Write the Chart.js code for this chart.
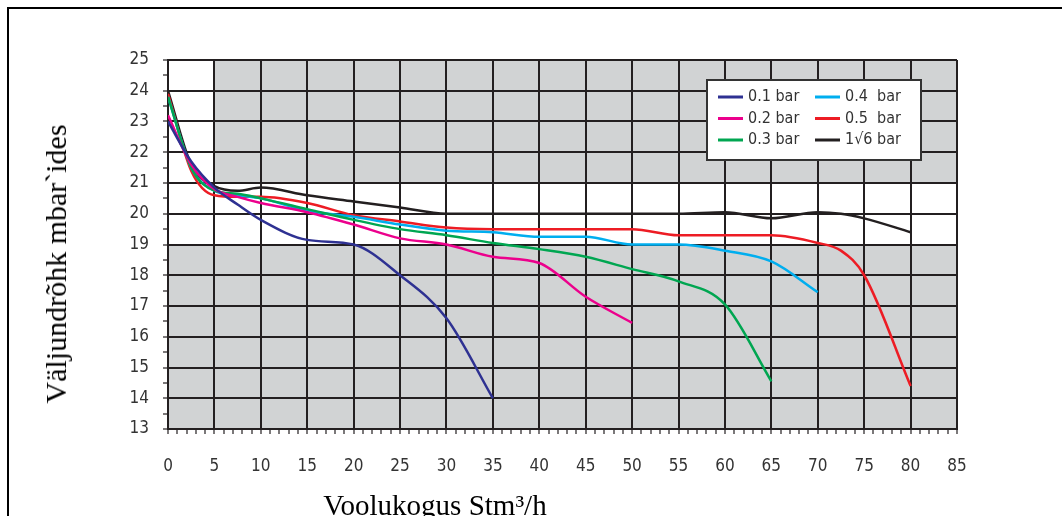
<!DOCTYPE html>
<html>
<head>
<meta charset="utf-8">
<script src="https://cdn.jsdelivr.net/npm/chart.js@4/dist/chart.umd.min.js"></script>
<style>
html,body{margin:0;background:#fff;overflow:hidden}
body{width:1062px;height:516px;position:relative}
.rule{position:absolute;background:#000}
#topRule{left:7px;top:7px;width:1055px;height:2px}
#leftRule{left:7px;top:7px;width:2px;height:509px}
#c{position:absolute;left:0;top:0}
.ttl{position:absolute;font-family:"Liberation Serif","Times New Roman",serif;color:#000;white-space:nowrap}
#ytitle{left:56px;top:264px;font-size:30px;transform:translate(-50%,-50%) rotate(-90deg)}
#xtitle{left:435px;top:505px;font-size:29px;transform:translate(-50%,-50%)}
</style>
</head>
<body>
<div class="rule" id="topRule"></div>
<div class="rule" id="leftRule"></div>
<canvas id="c" width="1062" height="516"></canvas>
<div class="ttl" id="ytitle">Väljundrõhk mbar`ides</div>
<div class="ttl" id="xtitle">Voolukogus Stm³/h</div>
<script>

// flow, Stm3/h
const flow = [0, 2.5, 5, 7.5, 10, 15, 20, 25, 30, 35, 40, 45, 50, 55, 60, 65, 70, 72.5, 75, 80]

const bar01 = [23.0, 21.7, 20.85, 20.3, 19.8, 19.15, 19.0, 18.0, 16.6, 14.0]
const bar02 = [23.2, 21.6, 20.8, 20.55, 20.35, 20.05, 19.65, 19.2, 19.0, 18.6, 18.4, 17.3, 16.45]
const bar03 = [23.8, 21.5, 20.75, 20.65, 20.5, 20.15, 19.8, 19.5, 19.3, 19.05, 18.85, 18.6, 18.2, 17.8, 17.05, 14.55]
const bar04 = [23.8, 21.5, 20.75, 20.6, 20.5, 20.1, 19.9, 19.65, 19.45, 19.4, 19.25, 19.25, 19.0, 19.0, 18.8, 18.45, 17.45]
const bar05 = [23.9, 21.4, 20.6, 20.55, 20.55, 20.35, 19.95, 19.75, 19.55, 19.5, 19.5, 19.5, 19.5, 19.3, 19.3, 19.3, 19.05, 18.8, 18.0, 14.4]
const bar16 = [24.0, 21.6, 20.9, 20.75, 20.85, 20.6, 20.4, 20.2, 20.0, 20.0, 20.0, 20.0, 20.0, 20.0, 20.05, 19.85, 20.05, 20.0, 19.85, 19.4]

const seriesNames = ["0.1 bar", "0.2 bar", "0.3 bar", "0.4  bar", "0.5  bar", "1\u221A6 bar"]
const seriesColors = ["#2e3192", "#ec008c", "#00a651", "#00aeef", "#ed1c24", "#231f20"]
const seriesValues = [bar01, bar02, bar03, bar04, bar05, bar16]

const tickFont = "'Liberation Sans Narrow','DejaVu Sans Condensed','Open Sans',sans-serif"

/* background: grey with white band 19..21 and white corner 0..5 / 21..25 */
const bgPlugin = {
  id:"bg",
  beforeDraw(chart){
    const {ctx, chartArea:a, scales:{x,y}} = chart
    ctx.save()
    ctx.fillStyle = "#d1d3d4"
    ctx.fillRect(a.left, a.top, a.right-a.left, a.bottom-a.top)
    ctx.fillStyle = "#fff"
    ctx.fillRect(a.left, y.getPixelForValue(21), a.right-a.left, y.getPixelForValue(19)-y.getPixelForValue(21))
    ctx.fillRect(a.left, a.top, x.getPixelForValue(5)-a.left, y.getPixelForValue(21)-a.top)
    ctx.restore()
  }
}

/* legend box inside the plot, two columns */
const legendPlugin = {
  id:"boxLegend",
  afterDraw(chart){
    const {ctx, chartArea:a} = chart
    const bx = a.right-250, by = a.top+20, bw = 214, bh = 80
    ctx.save()
    ctx.fillStyle = "#fff"
    ctx.fillRect(bx, by, bw, bh)
    ctx.strokeStyle = "#333"
    ctx.lineWidth = 2
    ctx.strokeRect(bx, by, bw, bh)
    ctx.font = "16px " + tickFont
    ctx.textBaseline = "middle"
    ctx.fillStyle = "#333"
    chart.data.datasets.forEach((ds,i)=>{
      const col = Math.floor(i/3), row = i%3
      const lx = bx + 11 + col*97
      const ly = by + 17 + row*21.5
      ctx.strokeStyle = ds.borderColor
      ctx.lineWidth = 3
      ctx.beginPath()
      ctx.moveTo(lx, ly)
      ctx.lineTo(lx+25, ly)
      ctx.stroke()
      ctx.fillText(ds.label, lx+30, ly)
    })
    ctx.restore()
  }
}

new Chart(document.getElementById("c"),{
  type:"line",
  data:{
    datasets: seriesValues.map((vals,i)=>({
      label: seriesNames[i],
      data: vals.map((v,j)=>({x:flow[j], y:v})),
      borderColor: seriesColors[i],
      backgroundColor: seriesColors[i],
      borderWidth: 2.5,
      pointRadius: 0,
      cubicInterpolationMode: "monotone",
      fill:false
    }))
  },
  options:{
    responsive:false,
    animation:false,
    layout:{padding:{left:20, right:105, top:60, bottom:37}},
    plugins:{legend:{display:false}, tooltip:{enabled:false}},
    scales:{
      x:{
        type:"linear", min:0, max:85,
        afterFit(s){ s.height = 50 },
        border:{display:true, color:"#231f20", width:2},
        grid:{
          color:c=>c.tick && c.tick.value%5===0 ? "#231f20" : "rgba(0,0,0,0)",
          lineWidth:2,
          tickColor:"#231f20",
          tickWidth:1.2,
          tickLength:5,
          drawOnChartArea:true
        },
        ticks:{
          stepSize:1, autoSkip:false, maxRotation:0,
          padding:22,
          color:"#333",
          font:{family:tickFont, size:17},
          callback:v=> v%5===0 ? String(v) : ""
        }
      },
      y:{
        type:"linear", min:13, max:25,
        afterFit(s){ s.width = 148 },
        border:{display:true, color:"#231f20", width:2},
        grid:{
          color:c=>c.tick && c.tick.value%1===0 ? "#231f20" : "rgba(0,0,0,0)",
          lineWidth:2,
          tickColor:"#231f20",
          tickWidth:1.2,
          tickLength:5
        },
        ticks:{
          stepSize:0.5, autoSkip:false,
          padding:14,
          color:"#333",
          font:{family:tickFont, size:17},
          callback:v=> v%1===0 ? String(v) : ""
        }
      }
    }
  },
  plugins:[bgPlugin, legendPlugin]
})
</script>
</body>
</html>
